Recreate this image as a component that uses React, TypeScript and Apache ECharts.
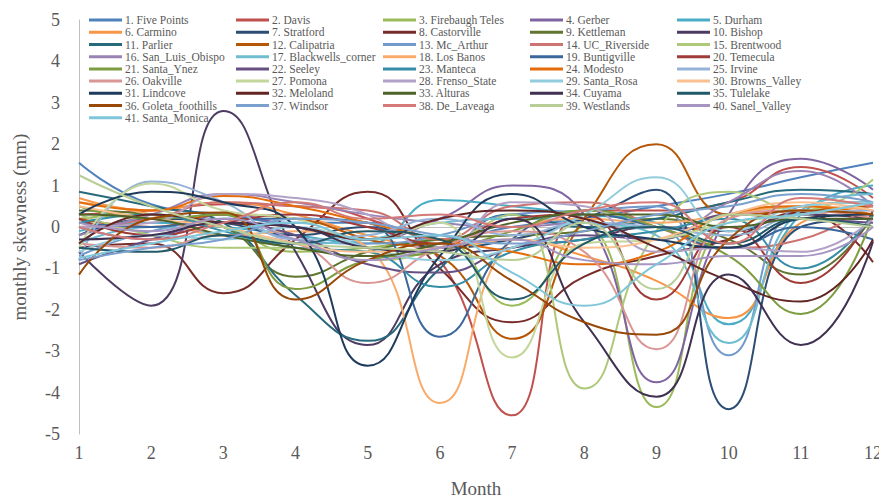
import React, { useEffect, useRef } from "react";
import * as echarts from "echarts";

const months = ["1", "2", "3", "4", "5", "6", "7", "8", "9", "10", "11", "12"];

const stationNames = [
  "1. Five Points", "2. Davis", "3. Firebaugh Teles", "4. Gerber", "5. Durham",
  "6. Carmino", "7. Stratford", "8. Castorville", "9. Kettleman", "10. Bishop",
  "11. Parlier", "12. Calipatria", "13. Mc_Arthur", "14. UC_Riverside", "15. Brentwood",
  "16. San_Luis_Obispo", "17. Blackwells_corner", "18. Los Banos", "19. Buntigville", "20. Temecula",
  "21. Santa_Ynez", "22. Seeley", "23. Manteca", "24. Modesto", "25. Irvine",
  "26. Oakville", "27. Pomona", "28. Frenso_State", "29. Santa_Rosa", "30. Browns_Valley",
  "31. Lindcove", "32. Meloland", "33. Alturas", "34. Cuyama", "35. Tulelake",
  "36. Goleta_foothills", "37. Windsor", "38. De_Laveaga", "39. Westlands", "40. Sanel_Valley",
  "41. Santa_Monica",
];

const stationColors = [
  "#4F81BD", "#C0504D", "#9BBB59", "#8064A2", "#4BACC6",
  "#F79646", "#2C4D75", "#772C2A", "#5F7530", "#4D3B62",
  "#276A7C", "#B65708", "#729ACA", "#CD7371", "#AFC97A",
  "#9983B5", "#6FBDD1", "#F9AB6B", "#3A679C", "#9F3B38",
  "#7E9D40", "#664F83", "#358EA6", "#E46C0A", "#95B3D7",
  "#D99694", "#C3D69B", "#B3A2C7", "#93CDDD", "#FAC090",
  "#1F3B5C", "#632523", "#4F6228", "#403152", "#215968",
  "#984807", "#7BA0CD", "#D47A78", "#B9CD96", "#A695C1",
  "#7FC6DA",
];

const s01 = [1.55, 0.55, 0.3, 0.1, 0.1, -0.3, 0.0, 0.2, 0.5, 0.8, 1.2, 1.55];
const s02 = [0.3, 0.4, 0.55, 0.5, 0.2, -0.8, -4.55, 0.4, 0.4, 0.6, 1.45, 0.7];
const s03 = [0.2, 0.3, 0.0, -0.6, -0.5, -0.3, -1.9, 0.0, -4.35, 0.2, 0.5, 0.6];
const s04 = [0.0, -0.3, 0.3, 0.0, -0.3, 0.2, 1.0, 0.3, -3.75, 0.3, 1.65, 0.9];
const s05 = [-0.1, 0.1, 0.0, -0.2, -0.4, 0.65, 0.5, 0.3, 0.1, -2.35, 0.3, 1.0];
const s06 = [0.7, 0.4, 0.6, 0.3, -0.2, -0.5, -0.3, -0.7, -1.3, -2.2, 0.1, 0.5];
const s07 = [-0.2, 0.2, 0.1, -0.2, 0.0, -0.5, -0.3, 0.2, 0.9, -4.4, 0.0, 0.2];
const s08 = [-0.5, -0.4, -1.6, -0.3, 0.85, -1.0, -2.3, -1.2, -0.7, -0.3, 0.35, -0.85];
const s09 = [0.4, 0.3, 0.0, -1.2, -0.6, -0.3, -0.2, -0.1, 0.2, -0.3, -1.15, 0.3];
const s10 = [-0.6, -1.9, 2.8, -0.6, -2.85, -0.9, -0.5, -0.3, 0.0, -0.1, 0.3, 0.2];
const s11 = [0.85, 0.5, 0.1, -1.65, -2.75, -1.0, 0.3, 0.0, 0.2, 0.6, 0.9, 0.8];
const s12 = [0.2, 0.0, 0.3, 0.2, -0.3, -0.7, -2.7, 0.2, 2.0, 0.3, 0.4, 0.5];
const s13 = [-0.7, -0.1, 0.1, -0.3, -0.4, -0.2, 0.3, 0.4, 0.5, -3.1, 0.5, 0.6];
const s14 = [0.0, 0.2, 0.6, 0.5, 0.4, -0.3, 0.5, 0.6, 0.0, -0.5, -0.3, 0.6];
const s15 = [0.3, -0.2, -0.5, -0.5, -0.8, -0.5, 0.3, -3.9, -0.1, 0.85, 0.4, 1.15];
const s16 = [-0.2, 0.3, 0.8, 0.6, 0.3, 0.1, 0.0, 0.1, -0.3, 0.6, 1.35, 0.5];
const s17 = [-0.4, 0.0, -0.2, -0.4, -0.3, 0.1, 0.2, 0.1, -0.2, -2.8, 0.4, 0.8];
const s18 = [0.6, 0.3, -0.2, -0.1, -0.5, -4.25, -0.3, 0.2, 0.1, 0.3, 0.5, 0.4];
const s19 = [0.1, 0.0, 0.2, 0.2, 0.1, -2.65, -0.3, 0.3, 0.0, -0.5, 0.0, -0.3];
const s20 = [0.2, -0.2, 0.1, 0.3, 0.0, -0.4, 0.2, 0.3, -1.75, 0.0, -1.35, 0.4];
const s21 = [0.5, 0.2, 0.3, -1.5, -0.8, -0.6, -0.1, 0.4, 0.0, -0.7, -2.1, 0.3];
const s22 = [-0.9, -0.3, 0.1, -0.2, -0.9, -1.1, -0.5, -0.2, -0.3, 0.3, 0.2, 0.1];
const s23 = [0.1, 0.3, -0.1, -0.5, -0.6, -1.45, -0.6, -0.3, -0.1, 0.2, -1.0, 0.3];
const s24 = [0.6, 0.4, 0.75, 0.5, 0.1, -0.3, -0.6, -0.9, -0.6, 0.3, 0.5, 0.3];
const s25 = [-0.8, 1.1, 0.6, -0.3, -0.2, 0.2, -0.2, 0.1, 0.0, -0.2, 0.3, 0.4];
const s26 = [-0.4, -0.5, -0.2, -0.4, -1.35, -0.5, -0.1, -0.6, -2.95, 0.2, 0.4, 0.2];
const s27 = [-0.5, 1.05, 0.4, 0.2, -0.3, 0.1, -3.15, -0.4, -0.3, 0.1, 0.3, 0.6];
const s28 = [0.0, 0.1, 0.8, 0.7, 0.3, -0.6, 0.6, 0.5, -0.6, -0.5, -0.6, 0.2];
const s29 = [-0.6, -0.2, -0.3, 0.0, -0.5, -0.8, -0.5, 0.3, 1.2, -0.1, 0.5, 0.6];
const s30 = [0.5, 0.2, 0.0, -0.4, -0.6, -0.5, -0.3, -0.5, -0.3, 0.3, 0.6, 0.4];
const s31 = [0.3, 0.85, 0.6, 0.0, -3.35, -0.7, 0.8, 0.0, -0.3, -0.5, 0.2, 0.3];
const s32 = [-0.4, 0.3, 0.1, 0.0, -0.3, 0.2, 0.4, 0.2, -0.5, -1.3, -1.8, -0.3];
const s33 = [0.3, 0.2, -0.2, -0.5, -0.7, -0.4, 0.1, 0.3, 0.3, 0.0, 0.2, 0.2];
const s34 = [-0.3, -0.2, 0.1, 0.0, -0.5, -0.6, 0.2, -2.3, -4.1, -1.15, -2.85, -0.35];
const s35 = [-0.5, -0.6, -0.2, -0.4, -0.1, -0.3, -1.75, -0.4, 0.0, -0.4, 0.2, 0.0];
const s36 = [-1.15, 0.2, 0.35, -1.75, -0.8, -0.4, -1.3, -2.3, -2.6, -0.3, 0.4, 0.3];
const s37 = [-0.8, -0.5, -0.3, 0.2, 0.1, -0.2, -0.4, -0.1, 0.3, 0.5, 0.8, 0.6];
const s38 = [0.0, -0.3, 0.1, 0.6, 0.2, 0.3, 0.0, 0.4, 0.6, -0.4, 0.7, 0.5];
const s39 = [1.25, 0.5, 0.0, -0.4, -0.5, -0.6, -0.8, 0.1, -1.5, 0.3, 0.2, 0.0];
const s40 = [0.1, -0.1, 0.2, -0.3, -0.8, -0.5, -0.3, -0.8, -0.9, -0.7, -0.7, 0.0];
const s41 = [-0.75, -0.4, -0.1, 0.1, -0.3, -0.2, -1.1, -1.9, -0.9, 0.1, 0.3, 0.6];

const stationValues = [
  s01, s02, s03, s04, s05, s06, s07, s08, s09, s10,
  s11, s12, s13, s14, s15, s16, s17, s18, s19, s20,
  s21, s22, s23, s24, s25, s26, s27, s28, s29, s30,
  s31, s32, s33, s34, s35, s36, s37, s38, s39, s40,
  s41,
];

const FONT = "'Liberation Serif', 'DejaVu Serif', serif";
const GREY = "#595959";

export default function App() {
  const ref = useRef<HTMLDivElement>(null);

  useEffect(() => {
    if (!ref.current) return;
    const chart = echarts.init(ref.current, null, { renderer: "svg" });
    chart.setOption({
      animation: false,
      backgroundColor: "#ffffff",
      grid: { left: 79, right: 14, top: 20, bottom: 67, containLabel: false },
      legend: {
        left: 89,
        top: 14,
        width: 760,
        icon: "rect",
        itemWidth: 33,
        itemHeight: 3,
        itemGap: 0,
        padding: 0,
        selectedMode: false,
        textStyle: {
          fontFamily: FONT,
          fontSize: 11.5,
          color: GREY,
          width: 111,
          overflow: "truncate",
          lineHeight: 12.2,
          padding: [0, 0, 0, -2],
        },
        data: stationNames,
      },
      xAxis: {
        type: "category",
        data: months,
        boundaryGap: false,
        name: "Month",
        nameLocation: "middle",
        nameGap: 45,
        nameTextStyle: { fontFamily: FONT, fontSize: 19, color: GREY },
        axisLine: { show: true, lineStyle: { color: "#BFBFBF", width: 1 } },
        axisTick: { show: false },
        axisLabel: { fontFamily: FONT, fontSize: 18, color: GREY, margin: 10 },
        splitLine: { show: false },
      },
      yAxis: {
        type: "value",
        min: -5,
        max: 5,
        interval: 1,
        name: "monthly skewness (mm)",
        nameLocation: "middle",
        nameGap: 50,
        nameTextStyle: { fontFamily: FONT, fontSize: 19, color: GREY },
        axisLine: { show: true, lineStyle: { color: "#BFBFBF", width: 1 } },
        axisTick: { show: false },
        axisLabel: { fontFamily: FONT, fontSize: 18, color: GREY, margin: 19 },
        splitLine: { show: false },
      },
      series: stationNames.map((name, i) => ({
        name,
        type: "line",
        data: stationValues[i],
        smooth: 0.5,
        symbol: "none",
        showSymbol: false,
        color: stationColors[i],
        lineStyle: { width: 2, color: stationColors[i] },
        emphasis: { disabled: true },
      })),
    });
    return () => chart.dispose();
  }, []);

  return <div ref={ref} style={{ width: 887, height: 503, margin: -8 }} />;
}
